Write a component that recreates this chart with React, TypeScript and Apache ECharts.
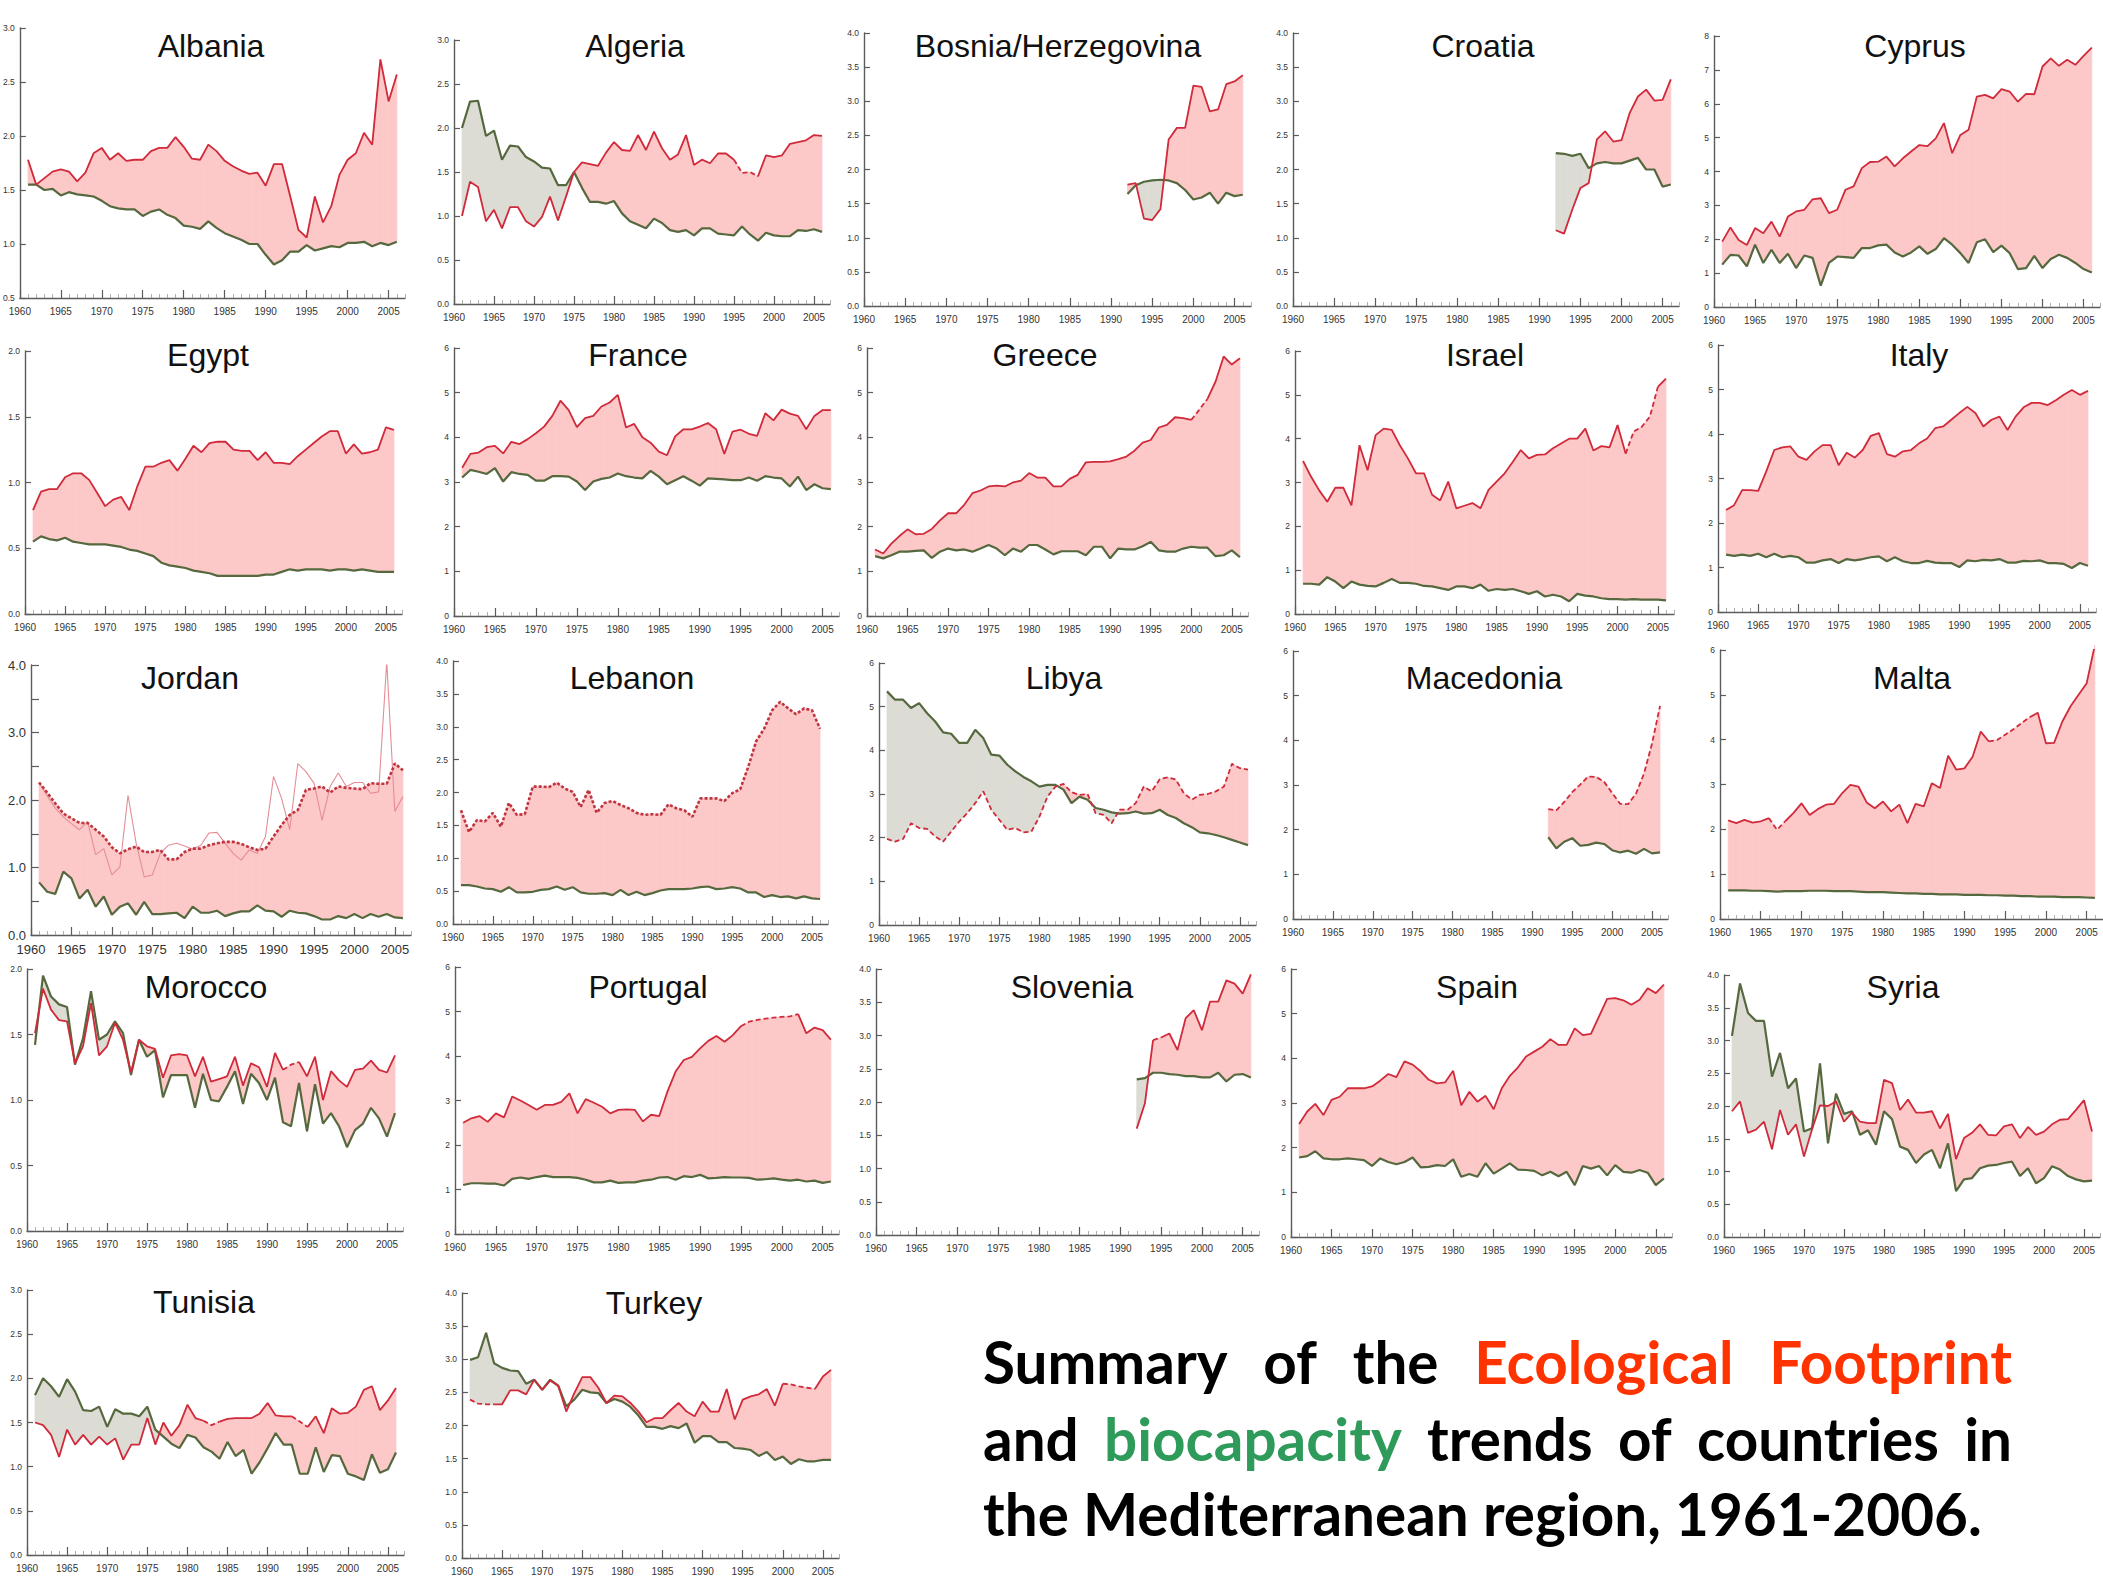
import React, { useEffect, useRef } from "react";
import * as echarts from "echarts";

// ---------- DATA (global hectares per person, 1961-2006; late starters from 1992) ----------
const FIRST_YEAR = 1961;
const LATE_YEAR = 1992;

const albaniaEF = [1.78,1.55,1.61,1.67,1.69,1.67,1.58,1.66,1.84,1.89, 1.78,1.84,1.77,1.78,1.78,1.86,1.89,1.89,1.99,1.90, 1.79,1.78,1.92,1.86,1.77,1.72,1.68,1.65,1.66,1.54, 1.74,1.74,1.44,1.13,1.06,1.44,1.20,1.35,1.64,1.78, 1.84,2.03,1.92,2.71,2.32,2.57];
const albaniaBC = [1.55,1.55,1.50,1.51,1.45,1.48,1.46,1.45,1.44,1.40, 1.35,1.33,1.32,1.32,1.26,1.30,1.32,1.27,1.24,1.17, 1.16,1.14,1.21,1.15,1.10,1.07,1.04,1.00,1.00,0.90, 0.81,0.85,0.93,0.93,0.99,0.94,0.96,0.98,0.97,1.01, 1.01,1.02,0.98,1.01,0.99,1.02];

const algeriaEF = [1.00,1.39,1.33,0.94,1.07,0.86,1.10,1.10,0.94,0.88, 0.99,1.22,0.95,1.22,1.50,1.61,1.59,1.57,1.72,1.84, 1.75,1.74,1.92,1.75,1.96,1.77,1.64,1.70,1.92,1.58, 1.64,1.60,1.71,1.71,1.64,1.49,1.50,1.45,1.69,1.67, 1.69,1.82,1.84,1.86,1.92,1.91];
const algeriaBC = [2.00,2.30,2.31,1.91,1.97,1.64,1.80,1.79,1.67,1.62, 1.55,1.54,1.35,1.35,1.50,1.32,1.16,1.16,1.14,1.17, 1.03,0.94,0.90,0.86,0.97,0.92,0.84,0.82,0.84,0.78, 0.86,0.86,0.80,0.79,0.78,0.88,0.79,0.72,0.81,0.78, 0.77,0.77,0.84,0.83,0.85,0.82];

const bosniaEF = [1.78,1.80,1.28,1.26,1.42,2.44,2.61,2.61,3.23,3.21,2.85,2.88,3.25,3.29,3.38];
const bosniaBC = [1.64,1.77,1.82,1.84,1.85,1.84,1.80,1.70,1.56,1.59,1.66,1.50,1.66,1.61,1.63];

const croatiaEF = [1.11,1.06,1.41,1.73,1.80,2.44,2.56,2.41,2.43,2.83,3.07,3.17,3.01,3.02,3.32];
const croatiaBC = [2.24,2.23,2.20,2.23,2.02,2.09,2.11,2.09,2.09,2.13,2.17,2.00,2.00,1.75,1.78];

const cyprusEF = [1.93,2.35,1.98,1.83,2.33,2.18,2.52,2.08,2.67,2.82, 2.87,3.18,3.21,2.77,2.87,3.46,3.56,4.10,4.28,4.29, 4.44,4.15,4.39,4.59,4.78,4.75,4.98,5.43,4.54,5.08, 5.23,6.21,6.26,6.16,6.43,6.36,6.06,6.29,6.28,7.10, 7.34,7.12,7.30,7.15,7.41,7.66];
const cyprusBC = [1.25,1.54,1.52,1.20,1.84,1.30,1.69,1.30,1.57,1.15, 1.52,1.45,0.63,1.30,1.49,1.47,1.45,1.74,1.74,1.82, 1.84,1.61,1.49,1.61,1.79,1.57,1.71,2.03,1.84,1.59, 1.30,1.91,2.00,1.62,1.81,1.59,1.12,1.15,1.51,1.15, 1.42,1.54,1.45,1.30,1.12,1.02];

const egyptEF = [0.79,0.93,0.95,0.95,1.04,1.07,1.07,1.02,0.92,0.82, 0.87,0.89,0.79,0.97,1.12,1.12,1.15,1.17,1.09,1.18, 1.28,1.23,1.30,1.31,1.31,1.25,1.24,1.24,1.17,1.23, 1.15,1.15,1.14,1.20,1.25,1.30,1.35,1.39,1.39,1.22, 1.29,1.22,1.23,1.25,1.42,1.40];
const egyptBC = [0.55,0.59,0.57,0.56,0.58,0.55,0.54,0.53,0.53,0.53, 0.52,0.51,0.49,0.48,0.46,0.44,0.39,0.37,0.36,0.35, 0.33,0.32,0.31,0.29,0.29,0.29,0.29,0.29,0.29,0.30, 0.30,0.32,0.34,0.33,0.34,0.34,0.34,0.33,0.34,0.34, 0.33,0.34,0.33,0.32,0.32,0.32];

const franceEF = [3.32,3.63,3.66,3.78,3.81,3.64,3.90,3.85,3.96,4.09, 4.24,4.48,4.82,4.61,4.23,4.43,4.48,4.69,4.78,4.95, 4.22,4.30,4.00,3.88,3.68,3.60,4.02,4.18,4.18,4.24, 4.32,4.18,3.63,4.13,4.17,4.08,4.03,4.54,4.38,4.62, 4.53,4.48,4.18,4.48,4.61,4.61];
const franceBC = [3.10,3.27,3.23,3.18,3.31,3.01,3.22,3.18,3.16,3.03, 3.03,3.13,3.13,3.12,3.01,2.82,3.01,3.07,3.10,3.19, 3.13,3.10,3.08,3.25,3.12,2.95,3.04,3.13,3.03,2.92, 3.08,3.07,3.06,3.04,3.04,3.10,3.03,3.13,3.10,3.08, 2.90,3.12,2.82,2.95,2.86,2.84];

const greeceEF = [1.49,1.40,1.62,1.79,1.94,1.83,1.84,1.95,2.14,2.30, 2.30,2.49,2.75,2.81,2.90,2.92,2.90,2.99,3.03,3.20, 3.10,3.10,2.90,2.90,3.07,3.16,3.44,3.45,3.45,3.46, 3.51,3.57,3.70,3.88,3.94,4.22,4.28,4.45,4.43,4.39, 4.62,4.86,5.25,5.81,5.63,5.77];
const greeceBC = [1.34,1.29,1.36,1.44,1.44,1.46,1.47,1.30,1.44,1.51, 1.47,1.49,1.44,1.51,1.59,1.51,1.36,1.51,1.44,1.59, 1.59,1.49,1.38,1.45,1.45,1.45,1.36,1.55,1.55,1.29, 1.51,1.49,1.49,1.56,1.66,1.47,1.44,1.44,1.51,1.55, 1.53,1.53,1.34,1.36,1.47,1.32];

const israelEF = [3.49,3.13,2.82,2.56,2.88,2.88,2.48,3.85,3.28,4.08, 4.23,4.20,3.85,3.55,3.21,3.21,2.72,2.59,3.02,2.41, 2.47,2.53,2.41,2.83,3.02,3.21,3.47,3.74,3.55,3.63, 3.64,3.78,3.89,4.00,4.00,4.23,3.73,3.83,3.80,4.31, 3.66,4.16,4.27,4.50,5.18,5.37];
const israelBC = [0.69,0.69,0.67,0.84,0.74,0.59,0.74,0.67,0.64,0.63, 0.71,0.80,0.71,0.71,0.69,0.64,0.63,0.59,0.55,0.63, 0.63,0.59,0.67,0.53,0.57,0.55,0.57,0.52,0.46,0.52, 0.40,0.44,0.40,0.29,0.46,0.42,0.40,0.36,0.34,0.34, 0.33,0.34,0.33,0.33,0.33,0.31];

const italyEF = [2.29,2.40,2.74,2.74,2.72,3.16,3.64,3.70,3.72,3.49, 3.42,3.61,3.75,3.75,3.30,3.58,3.47,3.64,3.96,4.02, 3.55,3.49,3.61,3.64,3.79,3.90,4.13,4.17,4.32,4.47, 4.61,4.47,4.17,4.32,4.39,4.09,4.39,4.60,4.70,4.70, 4.65,4.76,4.88,4.99,4.88,4.97];
const italyBC = [1.29,1.26,1.29,1.26,1.31,1.23,1.31,1.23,1.26,1.23, 1.11,1.11,1.16,1.19,1.10,1.19,1.16,1.19,1.23,1.25, 1.14,1.23,1.14,1.10,1.10,1.15,1.11,1.10,1.10,1.01, 1.16,1.14,1.17,1.16,1.19,1.11,1.11,1.15,1.14,1.16, 1.10,1.10,1.08,0.99,1.10,1.04];

const jordanEF = [2.26,2.11,1.95,1.80,1.73,1.66,1.66,1.56,1.46,1.30, 1.21,1.27,1.31,1.23,1.23,1.26,1.12,1.12,1.23,1.28, 1.28,1.33,1.36,1.38,1.38,1.35,1.30,1.26,1.28,1.46, 1.63,1.78,1.85,2.15,2.17,2.20,2.11,2.20,2.18,2.17, 2.16,2.25,2.24,2.24,2.54,2.44];
const jordanEFAlt = [2.26,2.06,1.88,1.75,1.65,1.56,1.68,1.19,1.28,0.89, 1.01,2.07,1.36,0.86,0.89,1.21,1.33,1.36,1.32,1.27, 1.33,1.51,1.52,1.36,1.21,1.11,1.26,1.21,1.46,2.35, 2.02,1.56,2.54,2.42,2.25,1.70,2.20,2.40,2.20,2.26, 2.26,2.10,2.12,4.05,1.83,2.05];
const jordanBC = [0.78,0.64,0.61,0.94,0.84,0.54,0.67,0.42,0.57,0.30, 0.42,0.47,0.30,0.49,0.31,0.31,0.32,0.33,0.25,0.42, 0.33,0.33,0.36,0.28,0.32,0.35,0.35,0.44,0.36,0.35, 0.27,0.36,0.33,0.32,0.28,0.23,0.23,0.28,0.25,0.31, 0.25,0.31,0.27,0.31,0.26,0.25];

const lebanonEF = [1.73,1.40,1.58,1.56,1.69,1.48,1.84,1.66,1.67,2.09, 2.09,2.08,2.15,2.06,2.01,1.78,2.04,1.69,1.84,1.87, 1.81,1.76,1.69,1.66,1.67,1.66,1.82,1.76,1.73,1.63, 1.91,1.91,1.91,1.87,1.99,2.05,2.39,2.78,2.97,3.25, 3.38,3.28,3.19,3.28,3.25,2.97];
const lebanonBC = [0.59,0.59,0.57,0.54,0.53,0.49,0.56,0.48,0.48,0.49, 0.52,0.53,0.57,0.52,0.56,0.48,0.46,0.46,0.47,0.44, 0.52,0.44,0.49,0.44,0.47,0.51,0.53,0.53,0.53,0.54, 0.56,0.57,0.53,0.54,0.56,0.54,0.48,0.48,0.41,0.44, 0.41,0.42,0.39,0.42,0.39,0.38];

const libyaEF = [1.97,1.91,1.97,2.33,2.22,2.20,2.03,1.91,2.14,2.37, 2.56,2.79,3.06,2.64,2.41,2.18,2.22,2.12,2.14,2.48, 2.94,3.17,3.23,3.04,2.98,3.00,2.56,2.52,2.33,2.64, 2.64,2.79,3.17,3.06,3.34,3.38,3.33,3.02,2.87,2.98, 3.00,3.06,3.17,3.69,3.59,3.56];
const libyaBC = [5.35,5.16,5.16,4.97,5.08,4.85,4.66,4.41,4.38,4.17, 4.17,4.47,4.28,3.90,3.88,3.67,3.52,3.39,3.29,3.17, 3.21,3.21,3.10,2.79,2.94,2.87,2.68,2.64,2.58,2.55, 2.56,2.60,2.55,2.56,2.64,2.52,2.45,2.33,2.24,2.12, 2.10,2.06,2.01,1.95,1.89,1.83];

const macedoniaEF = [2.46,2.43,2.62,2.84,3.01,3.19,3.18,3.07,2.82,2.58,2.57,2.81,3.26,3.93,4.77];
const macedoniaBC = [1.83,1.58,1.73,1.81,1.64,1.66,1.71,1.68,1.54,1.49,1.53,1.46,1.57,1.47,1.49];

const maltaEF = [2.20,2.14,2.21,2.15,2.18,2.25,1.99,2.18,2.36,2.58, 2.32,2.45,2.55,2.57,2.81,2.99,2.95,2.60,2.47,2.62, 2.40,2.55,2.14,2.57,2.51,3.03,2.92,3.64,3.33,3.36, 3.62,4.18,3.96,3.99,4.11,4.23,4.37,4.50,4.60,3.92, 3.93,4.40,4.74,5.00,5.26,6.11];
const maltaBC = [0.64,0.64,0.64,0.63,0.63,0.62,0.61,0.62,0.62,0.62, 0.63,0.63,0.63,0.62,0.62,0.62,0.61,0.60,0.60,0.60, 0.59,0.58,0.57,0.57,0.56,0.56,0.55,0.55,0.55,0.54, 0.54,0.54,0.53,0.53,0.52,0.52,0.51,0.51,0.50,0.50, 0.50,0.49,0.49,0.49,0.48,0.47];

const moroccoEF = [1.51,1.85,1.69,1.61,1.60,1.28,1.41,1.74,1.34,1.41, 1.59,1.46,1.21,1.46,1.41,1.39,1.17,1.34,1.35,1.34, 1.18,1.33,1.14,1.16,1.18,1.33,1.11,1.28,1.25,1.10, 1.36,1.23,1.27,1.29,1.18,1.33,1.00,1.22,1.15,1.10, 1.23,1.24,1.30,1.23,1.21,1.34];
const moroccoBC = [1.42,1.95,1.79,1.73,1.71,1.27,1.47,1.83,1.46,1.50, 1.60,1.51,1.19,1.46,1.33,1.38,1.02,1.19,1.19,1.19, 0.94,1.20,1.00,0.99,1.10,1.22,0.97,1.20,1.13,1.00, 1.17,0.83,0.80,1.13,0.76,1.12,0.82,0.90,0.80,0.64, 0.77,0.82,0.94,0.86,0.72,0.90];

const portugalEF = [2.50,2.60,2.65,2.52,2.71,2.62,3.09,3.00,2.90,2.79, 2.90,2.90,2.97,3.16,2.71,3.03,2.95,2.86,2.71,2.79, 2.80,2.79,2.53,2.68,2.65,3.20,3.65,3.91,3.98,4.17, 4.34,4.45,4.32,4.47,4.67,4.77,4.81,4.84,4.86,4.88, 4.89,4.94,4.51,4.64,4.58,4.37];
const portugalBC = [1.10,1.14,1.14,1.13,1.13,1.09,1.24,1.27,1.24,1.28, 1.31,1.28,1.28,1.28,1.26,1.22,1.16,1.16,1.20,1.15, 1.16,1.16,1.20,1.22,1.27,1.28,1.22,1.30,1.28,1.33, 1.25,1.26,1.28,1.27,1.27,1.26,1.22,1.23,1.25,1.22, 1.20,1.22,1.18,1.20,1.15,1.18];

const sloveniaEF = [1.60,1.98,2.93,2.97,3.03,2.78,3.26,3.38,3.08,3.51,3.51,3.83,3.78,3.63,3.92];
const sloveniaBC = [2.34,2.36,2.44,2.44,2.42,2.41,2.39,2.39,2.37,2.37,2.44,2.31,2.41,2.42,2.37];

const spainEF = [2.53,2.81,2.98,2.73,3.07,3.14,3.33,3.33,3.33,3.37, 3.50,3.65,3.58,3.93,3.86,3.71,3.52,3.44,3.46,3.72, 2.95,3.25,3.03,3.16,2.86,3.33,3.61,3.80,4.04,4.15, 4.26,4.43,4.30,4.30,4.67,4.52,4.55,4.94,5.33,5.35, 5.30,5.20,5.31,5.57,5.46,5.65];
const spainBC = [1.78,1.81,1.92,1.76,1.74,1.74,1.76,1.74,1.72,1.59, 1.76,1.68,1.63,1.68,1.78,1.56,1.57,1.61,1.59,1.74, 1.35,1.41,1.35,1.65,1.42,1.53,1.65,1.51,1.50,1.48, 1.38,1.46,1.36,1.46,1.16,1.59,1.53,1.59,1.38,1.61, 1.46,1.44,1.50,1.44,1.16,1.31];

const syriaEF = [1.92,2.07,1.59,1.64,1.76,1.34,1.94,1.56,1.72,1.23, 1.64,2.01,2.00,2.07,1.76,1.90,1.76,1.74,1.74,2.40, 2.35,1.94,2.10,1.90,1.90,1.92,1.66,1.88,1.19,1.51, 1.59,1.72,1.56,1.55,1.69,1.72,1.51,1.68,1.56,1.61, 1.72,1.79,1.80,1.94,2.09,1.61];
const syriaBC = [3.07,3.87,3.42,3.30,3.30,2.45,2.81,2.27,2.42,1.61, 1.66,2.65,1.43,2.19,1.88,1.92,1.56,1.63,1.41,1.92, 1.80,1.38,1.33,1.13,1.26,1.33,1.05,1.43,0.70,0.88, 0.90,1.05,1.09,1.10,1.13,1.15,0.93,1.05,0.82,0.90, 1.08,1.03,0.93,0.88,0.85,0.86];

const tunisiaEF = [1.50,1.47,1.36,1.11,1.42,1.25,1.36,1.25,1.34,1.25, 1.32,1.08,1.25,1.25,1.55,1.25,1.50,1.35,1.47,1.70, 1.55,1.52,1.47,1.51,1.54,1.55,1.55,1.55,1.60,1.72, 1.58,1.57,1.57,1.51,1.45,1.57,1.38,1.66,1.60,1.61, 1.68,1.87,1.91,1.64,1.75,1.89];
const tunisiaBC = [1.81,2.00,1.91,1.79,1.99,1.85,1.64,1.63,1.68,1.45, 1.65,1.60,1.60,1.57,1.68,1.42,1.34,1.26,1.21,1.36, 1.33,1.22,1.17,1.09,1.28,1.12,1.19,0.92,1.05,1.21, 1.38,1.25,1.25,0.92,0.92,1.22,0.94,1.13,1.12,0.92, 0.89,0.85,1.14,0.93,0.97,1.16];

const turkeyEF = [2.39,2.33,2.32,2.32,2.32,2.53,2.53,2.47,2.69,2.54, 2.68,2.60,2.21,2.49,2.73,2.73,2.57,2.34,2.45,2.44, 2.34,2.21,2.05,2.11,2.11,2.23,2.34,2.21,2.14,2.36, 2.21,2.21,2.55,2.09,2.39,2.44,2.47,2.55,2.30,2.63, 2.62,2.59,2.57,2.55,2.74,2.84];
const turkeyBC = [2.99,3.03,3.40,2.94,2.87,2.83,2.82,2.63,2.69,2.54, 2.69,2.60,2.29,2.39,2.54,2.50,2.49,2.34,2.40,2.36, 2.28,2.15,1.98,1.98,1.95,1.99,1.96,2.03,1.74,1.84, 1.84,1.75,1.75,1.66,1.65,1.63,1.54,1.60,1.48,1.53, 1.42,1.49,1.46,1.46,1.48,1.48];

// x-axis tick labels
const LABEL_YEARS = [1960, 1965, 1970, 1975, 1980, 1985, 1990, 1995, 2000, 2005];
const TICK_YEARS = [1960,1961,1962,1963,1964,1965,1966,1967,1968,1969,1970,1971,1972,1973,1974,1975,1976,1977,1978,1979,1980,1981,1982,1983,1984,1985,1986,1987,1988,1989,1990,1991,1992,1993,1994,1995,1996,1997,1998,1999,2000,2001,2002,2003,2004,2005,2006,2007];

// Summary text
const SUMMARY_LINES: [string, string][][] = [
  [["Summary", "k"], ["of", "k"], ["the", "k"], ["Ecological", "r"], ["Footprint", "r"]],
  [["and", "k"], ["biocapacity", "g"], ["trends", "k"], ["of", "k"], ["countries", "k"], ["in", "k"]],
  [["the", "k"], ["Mediterranean", "k"], ["region,", "k"], ["1961-2006.", "k"]],
];

// ---------- PANEL TABLE ----------
type Panel = {
  name: string; start: number; ef: number[]; bc: number[]; alt?: number[];
  yMin: number; yMax: number; step: number; dec: number; dash: number[][];
  big?: boolean; heavy?: boolean;
};
const ALL = [[1961, 2006]];
const PANELS: Panel[] = [
  { name: "Albania", start: FIRST_YEAR, ef: albaniaEF, bc: albaniaBC, yMin: 0.5, yMax: 3, step: 0.5, dec: 1, dash: [] },
  { name: "Algeria", start: FIRST_YEAR, ef: algeriaEF, bc: algeriaBC, yMin: 0, yMax: 3, step: 0.5, dec: 1, dash: [[1995, 1998]] },
  { name: "Bosnia/Herzegovina", start: LATE_YEAR, ef: bosniaEF, bc: bosniaBC, yMin: 0, yMax: 4, step: 0.5, dec: 1, dash: [] },
  { name: "Croatia", start: LATE_YEAR, ef: croatiaEF, bc: croatiaBC, yMin: 0, yMax: 4, step: 0.5, dec: 1, dash: [] },
  { name: "Cyprus", start: FIRST_YEAR, ef: cyprusEF, bc: cyprusBC, yMin: 0, yMax: 8, step: 1, dec: 0, dash: [] },
  { name: "Egypt", start: FIRST_YEAR, ef: egyptEF, bc: egyptBC, yMin: 0, yMax: 2, step: 0.5, dec: 1, dash: [] },
  { name: "France", start: FIRST_YEAR, ef: franceEF, bc: franceBC, yMin: 0, yMax: 6, step: 1, dec: 0, dash: [] },
  { name: "Greece", start: FIRST_YEAR, ef: greeceEF, bc: greeceBC, yMin: 0, yMax: 6, step: 1, dec: 0, dash: [[2000, 2002]] },
  { name: "Israel", start: FIRST_YEAR, ef: israelEF, bc: israelBC, yMin: 0, yMax: 6, step: 1, dec: 0, dash: [[2001, 2005]] },
  { name: "Italy", start: FIRST_YEAR, ef: italyEF, bc: italyBC, yMin: 0, yMax: 6, step: 1, dec: 0, dash: [] },
  { name: "Jordan", start: FIRST_YEAR, ef: jordanEF, bc: jordanBC, alt: jordanEFAlt, yMin: 0, yMax: 4, step: 0.5, dec: 1, dash: ALL, big: true, heavy: true },
  { name: "Lebanon", start: FIRST_YEAR, ef: lebanonEF, bc: lebanonBC, yMin: 0, yMax: 4, step: 0.5, dec: 1, dash: ALL, heavy: true },
  { name: "Libya", start: FIRST_YEAR, ef: libyaEF, bc: libyaBC, yMin: 0, yMax: 6, step: 1, dec: 0, dash: ALL },
  { name: "Macedonia", start: LATE_YEAR, ef: macedoniaEF, bc: macedoniaBC, yMin: 0, yMax: 6, step: 1, dec: 0, dash: ALL },
  { name: "Malta", start: FIRST_YEAR, ef: maltaEF, bc: maltaBC, yMin: 0, yMax: 6, step: 1, dec: 0, dash: [[1966, 1968], [1993, 1998]] },
  { name: "Morocco", start: FIRST_YEAR, ef: moroccoEF, bc: moroccoBC, yMin: 0, yMax: 2, step: 0.5, dec: 1, dash: [[1992, 1994]] },
  { name: "Portugal", start: FIRST_YEAR, ef: portugalEF, bc: portugalBC, yMin: 0, yMax: 6, step: 1, dec: 0, dash: [[1995, 2002]] },
  { name: "Slovenia", start: LATE_YEAR, ef: sloveniaEF, bc: sloveniaBC, yMin: 0, yMax: 4, step: 0.5, dec: 1, dash: [[1994, 1995]] },
  { name: "Spain", start: FIRST_YEAR, ef: spainEF, bc: spainBC, yMin: 0, yMax: 6, step: 1, dec: 0, dash: [] },
  { name: "Syria", start: FIRST_YEAR, ef: syriaEF, bc: syriaBC, yMin: 0, yMax: 4, step: 0.5, dec: 1, dash: [] },
  { name: "Tunisia", start: FIRST_YEAR, ef: tunisiaEF, bc: tunisiaBC, yMin: 0, yMax: 3, step: 0.5, dec: 1, dash: [[1982, 1984], [1993, 1995]] },
  { name: "Turkey", start: FIRST_YEAR, ef: turkeyEF, bc: turkeyBC, yMin: 0, yMax: 4, step: 0.5, dec: 1, dash: [[1961, 1964], [2000, 2004]] },
];

// ---------- LAYOUT (px): left, top, width, bottom, titleX, titleY ----------
const LAYOUT = [
  [18, 28, 387, 298, 211, 46], [454, 40, 376, 304, 635, 46], [864, 33, 387, 306, 1058, 46], [1293, 33, 386, 306, 1483, 46], [1714, 36, 386, 307, 1915, 46],
  [25, 351, 377, 614, 208, 355], [454, 348, 385, 616, 638, 355], [867, 348, 381, 616, 1045, 355], [1295, 351, 379, 614, 1485, 355], [1718, 345, 378, 612, 1919, 355],
  [31, 665, 380, 935, 190, 678], [453, 661, 375, 924, 632, 678], [879, 663, 377, 925, 1064, 678], [1293, 651, 375, 919, 1484, 678], [1720, 650, 383, 919, 1912, 678],
  [27, 969, 376, 1231, 206, 987], [455, 967, 384, 1234, 648, 987], [876, 969, 383, 1235, 1072, 987], [1291, 969, 381, 1237, 1477, 987], [1724, 975, 376, 1237, 1903, 987],
  [27, 1290, 377, 1555, 204, 1302], [462, 1293, 377, 1558, 654, 1303],
];
const SUM_LEFT = 983, SUM_RIGHT = 2012, SUM_Y = [1361, 1438, 1513];

const RED = "#d02a3b";
const PINK = "#fcc8c8";
const GREEN = "#56693e";
const GREY = "#dcdcd5";
const AXIS = "#5c5c5c";
const MINOR = "#9a9a9a";
const LABEL_FONT = "'Liberation Sans Narrow', 'Liberation Sans', Arial, sans-serif";

function pts(start: number, vals: number[]) {
  return vals.map((v, i) => [start + i, v]);
}

function splitDash(start: number, vals: number[], ranges: number[][]) {
  const inDash = (y: number) => ranges.some(([a, b]) => y >= a && y < b);
  const solid: any[] = [];
  const dashed: any[] = [];
  const n = vals.length;
  for (let i = 0; i < n; i++) {
    const x = start + i;
    solid.push([x, vals[i]]);
    dashed.push([x, vals[i]]);
    if (i < n - 1) {
      if (inDash(x)) solid.push([x + 0.5, "-"]);
      else dashed.push([x + 0.5, "-"]);
    }
  }
  return { solid, dashed };
}

function fillPieces(start: number, ef: number[], bc: number[]) {
  const out: number[][] = [];
  for (let i = 0; i < ef.length - 1; i++) {
    const x0 = start + i, x1 = x0 + 1;
    const e0 = ef[i], e1 = ef[i + 1], b0 = bc[i], b1 = bc[i + 1];
    const d0 = e0 - b0, d1 = e1 - b1;
    if (d0 * d1 < 0) {
      const t = d0 / (d0 - d1);
      const xc = x0 + t, yc = e0 + t * (e1 - e0);
      out.push([x0, e0, b0, xc, yc, yc, d0 > 0 ? 1 : -1]);
      out.push([xc, yc, yc, x1, e1, b1, d1 > 0 ? 1 : -1]);
    } else {
      out.push([x0, e0, b0, x1, e1, b1, d0 + d1 >= 0 ? 1 : -1]);
    }
  }
  return out;
}

function summaryGraphics() {
  const out: any[] = [];
  const canvas = document.createElement("canvas");
  const ctx = canvas.getContext("2d") as CanvasRenderingContext2D;
  const fam = "Lato, 'Open Sans', sans-serif";
  const measure = (t: string, fs: number) => {
    ctx.font = `bold ${fs}px ${fam}`;
    return ctx.measureText(t).width;
  };
  const lastLine = SUMMARY_LINES[2].map((w) => w[0]).join(" ");
  const fs = Math.min(60, (56 * (1982 - SUM_LEFT)) / measure(lastLine, 56));
  const colors: Record<string, string> = { k: "#000000", r: "#ff3300", g: "#2e9b5b" };
  SUMMARY_LINES.forEach((words, li) => {
    const widths = words.map((w) => measure(w[0], fs));
    const total = widths.reduce((a, b) => a + b, 0);
    const gap = li < 2 ? (SUM_RIGHT - SUM_LEFT - total) / (words.length - 1) : measure(" ", fs);
    let x = SUM_LEFT;
    words.forEach((w, k) => {
      out.push({
        type: "text", x, y: SUM_Y[li], silent: true,
        style: {
          text: w[0], fill: colors[w[1]], fontSize: fs, fontWeight: "bold", fontFamily: fam,
          align: "left", verticalAlign: "middle", textAlign: "left", textVerticalAlign: "middle",
        },
      });
      x += widths[k] + gap;
    });
  });
  return out;
}

function buildOption() {
  const grid: any[] = [], xAxis: any[] = [], yAxis: any[] = [], series: any[] = [], graphic: any[] = [];
  PANELS.forEach((p, i) => {
    const [left, top, width, bottom, tx, ty] = LAYOUT[i];
    grid.push({ left, top, width, height: bottom - top });
    const labelSize = p.big ? 13 : 10;
    xAxis.push({
      gridIndex: i, type: "value", min: 1960, max: 2007, interval: 5, position: "bottom",
      axisLine: { onZero: false, lineStyle: { color: AXIS, width: 1.4 } },
      axisTick: { show: true, inside: true, length: 4, customValues: TICK_YEARS, lineStyle: { color: MINOR, width: 0.8 } },
      axisLabel: {
        customValues: LABEL_YEARS, fontSize: labelSize, color: "#333", margin: 8, fontFamily: LABEL_FONT,
        formatter: (v: number) => String(Math.round(v)),
      },
      splitLine: { show: false },
    });
    xAxis.push({
      gridIndex: i, type: "value", min: 1960, max: 2007, interval: 5, position: "bottom",
      axisLine: { show: false, onZero: false },
      axisTick: { show: true, inside: true, length: 8, customValues: LABEL_YEARS, lineStyle: { color: AXIS, width: 1.2 } },
      axisLabel: { show: false },
      splitLine: { show: false },
    });
    yAxis.push({
      gridIndex: i, type: "value", min: p.yMin, max: p.yMax, interval: p.step,
      axisLine: { show: true, onZero: false, lineStyle: { color: AXIS, width: 1.4 } },
      axisTick: { show: true, inside: true, length: p.big ? 8 : 6, lineStyle: { color: AXIS, width: 1.2 } },
      axisLabel: {
        fontSize: p.big ? 13 : 8.5, color: "#333", margin: 5, fontFamily: LABEL_FONT,
        formatter: (v: number) => (p.big ? (Math.abs(v % 1) < 1e-9 ? v.toFixed(1) : "") : v.toFixed(p.dec)),
      },
      splitLine: { show: false },
    });
    const xi = i * 2;
    series.push({
      type: "custom", xAxisIndex: xi, yAxisIndex: i, z: 1, silent: true,
      data: fillPieces(p.start, p.ef, p.bc),
      encode: { x: 0, y: 1 },
      renderItem: (_params: any, api: any) => {
        const a = api.coord([api.value(0), api.value(1)]);
        const b = api.coord([api.value(3), api.value(4)]);
        const c = api.coord([api.value(3), api.value(5)]);
        const d = api.coord([api.value(0), api.value(2)]);
        const col = api.value(6) > 0 ? PINK : GREY;
        return { type: "polygon", shape: { points: [a, b, c, d] }, style: { fill: col, stroke: col, lineWidth: 0.8 } };
      },
    });
    if (p.alt) {
      series.push({
        type: "line", xAxisIndex: xi, yAxisIndex: i, z: 2, symbol: "none", silent: true,
        data: pts(p.start, p.alt), lineStyle: { color: "#e58d96", width: 1.1 },
      });
    }
    series.push({
      type: "line", xAxisIndex: xi, yAxisIndex: i, z: 3, symbol: "none", silent: true,
      data: pts(p.start, p.bc), lineStyle: { color: GREEN, width: 2.2 },
    });
    const { solid, dashed } = splitDash(p.start, p.ef, p.dash);
    series.push({
      type: "line", xAxisIndex: xi, yAxisIndex: i, z: 4, symbol: "none", silent: true,
      data: solid, connectNulls: false, lineStyle: { color: RED, width: 1.8 },
    });
    if (p.dash.length) {
      series.push({
        type: "line", xAxisIndex: xi, yAxisIndex: i, z: 4, symbol: "none", silent: true,
        data: dashed, connectNulls: false,
        lineStyle: { color: p.heavy ? "#c0343f" : RED, width: p.heavy ? 2.6 : 1.8, type: p.heavy ? [3, 2] : [5, 3] },
      });
    }
    graphic.push({
      type: "text", x: tx, y: ty, silent: true,
      style: {
        text: p.name, fill: "#111", fontSize: 32, fontFamily: "'Liberation Sans', Arial, sans-serif",
        align: "center", verticalAlign: "middle", textAlign: "center", textVerticalAlign: "middle",
      },
    });
  });
  graphic.push(...summaryGraphics());
  return { animation: false, backgroundColor: "#ffffff", grid, xAxis, yAxis, series, graphic };
}

export default function App() {
  const ref = useRef<HTMLDivElement>(null);
  useEffect(() => {
    document.body.style.margin = "0";
    const chart = echarts.init(ref.current as HTMLDivElement, null, { renderer: "svg" });
    chart.setOption(buildOption() as any);
    return () => chart.dispose();
  }, []);
  return <div ref={ref} style={{ position: "absolute", left: 0, top: 0, width: 2103, height: 1581 }} />;
}
